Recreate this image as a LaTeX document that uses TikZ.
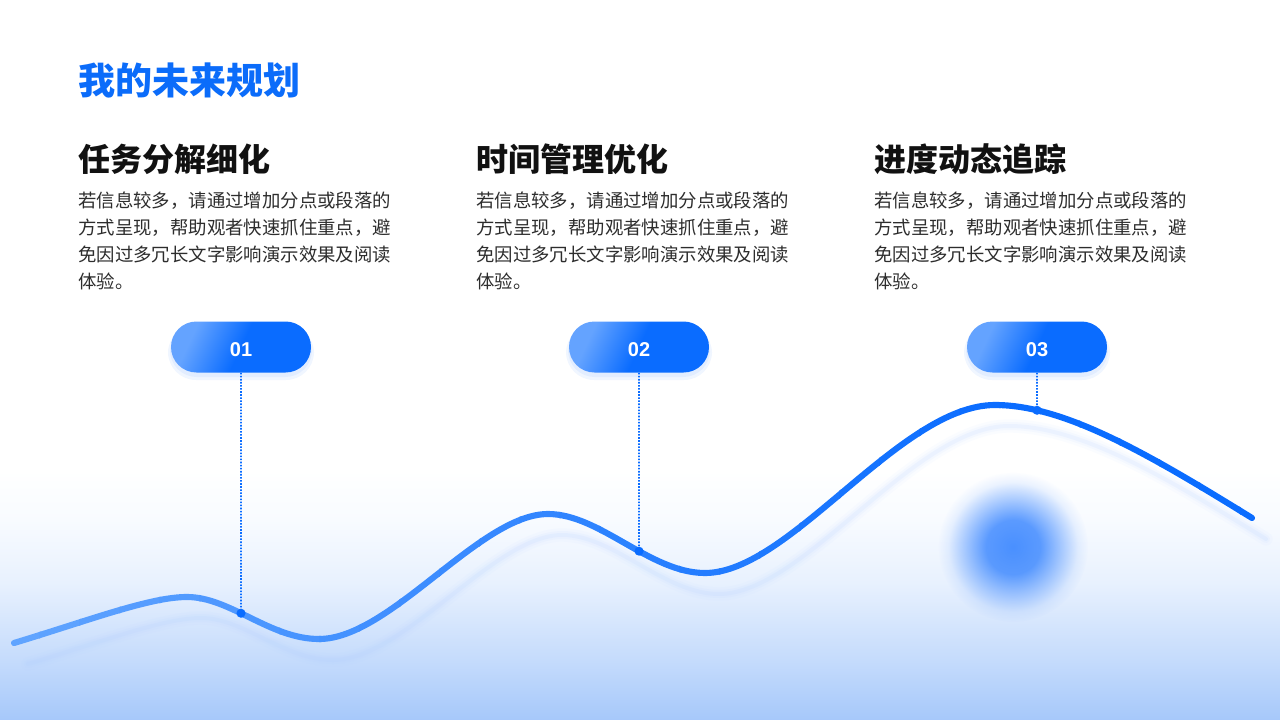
\documentclass[tikz,border=0pt]{standalone}
\usepackage{fontspec}
\setmainfont{Noto Sans CJK SC}
\setsansfont{Noto Sans CJK SC}
\newfontfamily\numfont{Liberation Sans}
\usetikzlibrary{fadings,intersections,calc}

\definecolor{mainblue}{RGB}{10,108,255}
\definecolor{titleblue}{RGB}{11,108,250}
\definecolor{bodygray}{RGB}{45,45,45}
\definecolor{headblack}{RGB}{17,17,17}
\definecolor{bgbot}{RGB}{166,200,250}
\definecolor{bgA}{RGB}{198,220,252}
\definecolor{bgB}{RGB}{232,241,254}
\definecolor{bgC}{RGB}{248,251,255}
\definecolor{pillL}{RGB}{100,163,255}
\definecolor{pillR}{RGB}{10,108,255}
\definecolor{glowblue}{RGB}{74,144,255}
\definecolor{shadowblue}{RGB}{175,205,255}
\definecolor{lightcurve}{RGB}{98,165,255}

\pgfdeclareverticalshading{bgshade}{100bp}{color(0bp)=(bgbot); color(25bp)=(bgbot); color(37.5bp)=(bgA); color(52.5bp)=(bgB); color(65bp)=(bgC); color(75bp)=(white); color(100bp)=(white)}
\pgfdeclarehorizontalshading{pillshade}{100bp}{color(0bp)=(pillL); color(28bp)=(pillL); color(50bp)=(pillR); color(100bp)=(pillR)}
\pgfdeclareradialshading{glowshade}{\pgfpoint{0bp}{0bp}}{color(0bp)=(white); color(9bp)=(white!90!black); color(16bp)=(white!45!black); color(21.5bp)=(white!10!black); color(25bp)=(black); color(50bp)=(black)}
\pgfdeclarefading{glowfade}{\pgfuseshading{glowshade}}

\def\curvepath{(14,643) .. controls (90,620) and (150,597) .. (187,597) .. controls (230,597) and (270,639) .. (319,639) .. controls (390,639) and (480,514) .. (548,514) .. controls (600,514) and (650,573) .. (705,573) .. controls (790,573) and (900,405) .. (995,405) .. controls (1065,405) and (1150,455) .. (1252,518)}

\begin{document}
\begin{tikzpicture}[x=0.75pt,y=-0.75pt,
  titlestyle/.style={inner sep=0pt, text=titleblue, font=\fontsize{27.75pt}{33pt}\selectfont\bfseries},
  headstyle/.style={inner sep=0pt, text=headblack, font=\fontsize{24pt}{29pt}\selectfont\bfseries},
  bodystyle/.style={inner sep=0pt, text=bodygray, align=left, font=\fontsize{13.8pt}{20.25pt}\selectfont},
  pill/.style={rectangle, rounded corners=19.1pt, minimum width=105pt, minimum height=38.25pt, inner sep=0pt,
    text height=13.6pt, text depth=0pt,
    shading=pillshade, shading angle=-25, text=white, font=\numfont\fontsize{15pt}{18pt}\selectfont\bfseries},
  pillglow/.style={fill=mainblue, opacity=0.06},
  connector/.style={draw=mainblue, line width=1.3pt, dash pattern=on 1.2pt off 1.1pt},
  dotnode/.style={circle, fill=mainblue, inner sep=0pt, minimum size=6.8pt},
  curveshadow/.style={draw=shadowblue, line cap=round},
]
\useasboundingbox (0,0) rectangle (1280,720);
\fill[white] (0,0) rectangle (1280,720);
\shade[shading=bgshade] (0,470) rectangle (1280,720);

% soft glow dot
\fill[glowblue, path fading=glowfade] (1013,547) circle (75);

% blurred shadow of the curve
\begin{scope}[shift={(14,21)}]
  \draw[curveshadow, line width=10pt, opacity=0.05] \curvepath;
  \draw[curveshadow, line width=6pt, opacity=0.08] \curvepath;
  \draw[curveshadow, line width=3pt, opacity=0.12] \curvepath;
\end{scope}

% main curve with horizontal colour gradient
\foreach \i in {0,...,31} {
  \pgfmathsetmacro{\xa}{\i*40-1}
  \pgfmathsetmacro{\xb}{\i*40+41}
  \pgfmathsetmacro{\f}{min(100,(\i*40+20)/10)}
  \begin{scope}
    \clip (\xa,300) rectangle (\xb,720);
    \draw[line width=4.6pt, line cap=round, color=mainblue!\f!lightcurve] \curvepath;
  \end{scope}
}

% points on the curve
\path[name path=curve] \curvepath;
\path[name path=v1] (241,380) -- (241,710);
\path[name path=v2] (639,380) -- (639,710);
\path[name path=v3] (1037,380) -- (1037,710);
\path[name intersections={of=curve and v1, by=c1}];
\path[name intersections={of=curve and v2, by=c2}];
\path[name intersections={of=curve and v3, by=c3}];

% pill glows
\foreach \px in {241,639,1037} {
  \fill[pillglow, rounded corners=20pt] (\px-71,326) rectangle (\px+71,377);
  \fill[pillglow, rounded corners=21pt] (\px-73,325) rectangle (\px+73,380);
}

\node[pill] (p1) at (241,347) {01};
\node[pill] (p2) at (639,347) {02};
\node[pill] (p3) at (1037,347) {03};

\node[dotnode] (dot1) at (c1) {};
\node[dotnode] (dot2) at (c2) {};
\node[dotnode] (dot3) at (c3) {};

\draw[connector] (p1.south) -- (dot1.center);
\draw[connector] (p2.south) -- (dot2.center);
\draw[connector] (p3.south) -- (dot3.center);

% texts
\node[titlestyle, anchor=base west] (title) at (78,95) {我的未来规划};

\node[headstyle, anchor=base west] (h1) at (78,172) {任务分解细化};
\node[headstyle, anchor=base west] (h2) at (476,172) {时间管理优化};
\node[headstyle, anchor=base west] (h3) at (874,172) {进度动态追踪};

\node[bodystyle, anchor=base west] (b1) at (78,288) {若信息较多，请通过增加分点或段落的\\方式呈现，帮助观者快速抓住重点，避\\免因过多冗长文字影响演示效果及阅读\\体验。};
\node[bodystyle, anchor=base west] (b2) at (476,288) {若信息较多，请通过增加分点或段落的\\方式呈现，帮助观者快速抓住重点，避\\免因过多冗长文字影响演示效果及阅读\\体验。};
\node[bodystyle, anchor=base west] (b3) at (874,288) {若信息较多，请通过增加分点或段落的\\方式呈现，帮助观者快速抓住重点，避\\免因过多冗长文字影响演示效果及阅读\\体验。};
\end{tikzpicture}
\end{document}
